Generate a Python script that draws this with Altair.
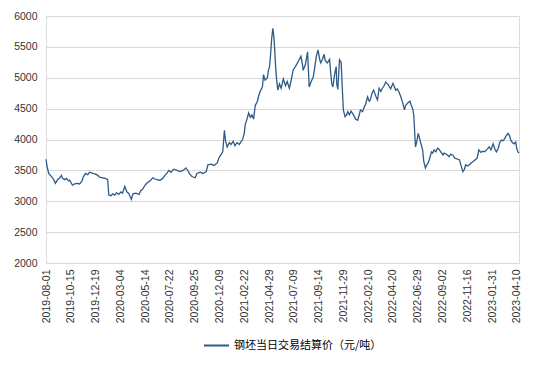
import altair as alt
import pandas as pd

# trading-day index and settlement price (yuan/ton)
day_index = [0, 2, 5, 8, 12, 15, 17, 21, 25, 28, 30, 34, 37, 41, 43, 48, 52, 57, 61, 65, 68, 72, 76, 79, 85, 90, 94, 97, 103, 108,
             112, 114, 118, 121, 125, 128, 132, 136, 139, 143, 147, 150, 155, 158, 163, 169, 172, 176, 179, 183, 189, 194, 198, 201, 207, 212, 216, 220, 223, 227,
             232, 238, 243, 249, 254, 258, 261, 265, 271, 274, 280, 285, 291, 294, 300, 305, 311, 314, 318, 321, 324, 326, 329, 333, 336, 340, 343, 347, 351, 354,
             357, 360, 362, 365, 368, 371, 374, 377, 380, 384, 386, 389, 393, 395, 398, 402, 404, 406, 408, 410, 412, 414, 415, 417, 419, 421, 424, 427, 431, 435,
             438, 442, 445, 449, 453, 456, 460, 463, 466, 467, 471, 475, 478, 482, 485, 487, 491, 494, 497, 499, 502, 505, 507, 511, 515, 517, 519, 521, 524, 527,
             528, 530, 533, 536, 538, 540, 543, 546, 548, 551, 554, 557, 559, 562, 566, 569, 571, 575, 578, 580, 584, 587, 589, 592, 595, 599, 602, 605, 608, 611,
             614, 617, 620, 622, 626, 630, 632, 635, 638, 641, 644, 648, 651, 653, 657, 661, 663, 666, 668, 670, 671, 673, 676, 679, 681, 684, 686, 689, 691, 694,
             697, 700, 702, 705, 708, 711, 713, 717, 721, 723, 726, 730, 732, 735, 739, 742, 745, 748, 751, 753, 757, 760, 762, 766, 770, 772, 775, 779, 783, 786,
             790, 793, 796, 799, 803, 805, 808, 812, 815, 818, 821, 824, 827, 830, 833, 835, 839, 842, 844, 847, 850, 853, 855, 857, 859]
price = [3680, 3560, 3450, 3420, 3380, 3330, 3290, 3350, 3380, 3420, 3370, 3350, 3370, 3330, 3340, 3260, 3280, 3290, 3280, 3320, 3400, 3450, 3430, 3470, 3450, 3440, 3420, 3390, 3380, 3370,
         3350, 3100, 3090, 3120, 3100, 3140, 3110, 3150, 3130, 3240, 3150, 3130, 3030, 3120, 3130, 3110, 3170, 3200, 3250, 3290, 3330, 3380, 3360, 3350, 3340, 3370, 3420, 3460, 3500, 3470,
         3520, 3500, 3480, 3500, 3540, 3490, 3440, 3400, 3380, 3450, 3470, 3450, 3480, 3590, 3600, 3580, 3620, 3700, 3760, 3800, 4150, 3980, 3880, 3950, 3920, 3970, 3900, 3950, 3920, 3960,
         4000, 4100, 4250, 4330, 4430, 4360, 4400, 4330, 4550, 4620, 4700, 4780, 4850, 5050, 4960, 5000, 5120, 5180, 5400, 5650, 5800, 5650, 5500, 5180, 4950, 4800, 4900, 4830, 4980, 4870,
         4940, 4830, 4950, 5130, 5180, 5230, 5300, 5350, 5200, 5120, 5210, 5420, 4850, 4950, 5000, 5100, 5350, 5450, 5300, 5240, 5300, 5380, 5280, 5240, 5300, 5080, 4900, 4850, 5050, 5180,
         4900, 4810, 5290, 5250, 4850, 4480, 4370, 4400, 4450, 4400, 4460, 4420, 4390, 4330, 4310, 4400, 4480, 4450, 4530, 4560, 4690, 4620, 4640, 4750, 4800, 4700, 4640, 4830, 4780, 4830,
         4870, 4930, 4900, 4880, 4820, 4910, 4870, 4800, 4820, 4770, 4700, 4590, 4480, 4550, 4590, 4620, 4560, 4500, 4390, 4040, 3880, 3950, 4100, 4000, 3930, 3830, 3650, 3540, 3580, 3620,
         3700, 3800, 3780, 3830, 3800, 3860, 3850, 3800, 3750, 3780, 3770, 3740, 3720, 3760, 3750, 3700, 3690, 3680, 3670, 3600, 3480, 3520, 3590, 3570, 3600, 3620, 3640, 3670, 3700, 3830,
         3790, 3810, 3800, 3820, 3860, 3880, 3830, 3930, 3850, 3800, 3850, 3950, 3990, 3980, 4010, 4050, 4100, 4060, 3990, 3950, 3930, 3960, 3850, 3800, 3780]

tick_labels = ["2019-08-01", "2019-10-15", "2019-12-19", "2020-03-04", "2020-05-14", "2020-07-22",
               "2020-09-25", "2020-12-09", "2021-02-22", "2021-04-29", "2021-07-09", "2021-09-14",
               "2021-11-29", "2022-02-10", "2022-04-20", "2022-06-29", "2022-09-02", "2022-11-16",
               "2023-01-31", "2023-04-10"]
tick_step = 45
y_ticks = [2000, 2500, 3000, 3500, 4000, 4500, 5000, 5500, 6000]
series_name = "钢坯当日交易结算价（元/吨）"

df = pd.DataFrame({"idx": day_index, "price": price, "series": series_name})

tick_values = [i * tick_step for i in range(len(tick_labels))]
label_expr = "[" + ",".join("'" + t + "'" for t in tick_labels) + "][round(datum.value/%d)]" % tick_step

chart = alt.Chart(df).mark_line(strokeWidth=1.3, interpolate="linear").encode(
    x=alt.X("idx:Q", scale=alt.Scale(domain=[0, 859], nice=False, zero=False),
            axis=alt.Axis(values=tick_values, labelExpr=label_expr, labelAngle=270,
                          labelAlign="right", labelBaseline="middle", labelPadding=6,
                          grid=False, ticks=False, domain=False, title=None,
                          labelFont="Liberation Sans", labelFontSize=10.5,
                          labelColor="#333333", labelOverlap=False)),
    y=alt.Y("price:Q", scale=alt.Scale(domain=[2000, 6000], nice=False, zero=False),
            axis=alt.Axis(values=y_ticks, format="d", grid=True, gridColor="#d9d9d9", gridWidth=1,
                          ticks=False, domain=False, title=None, labelPadding=9,
                          labelFont="Liberation Sans", labelFontSize=10.5,
                          labelColor="#333333")),
    color=alt.Color("series:N", scale=alt.Scale(range=["#2E5A88"]),
                    legend=alt.Legend(orient="none", legendX=157, legendY=316,
                                      direction="horizontal", title=None,
                                      symbolType="stroke", symbolSize=625,
                                      symbolStrokeWidth=2, labelFont="Noto Sans CJK SC",
                                      labelFontSize=11, labelColor="#000000",
                                      labelOffset=4)),
).properties(
    width=473, height=247,
    autosize=alt.AutoSizeParams(type="none"),
    padding={"left": 38, "top": 8, "right": 20, "bottom": 94},
).configure_view(stroke=None).configure(background="white")

chart.save("out.html", embed_options={"renderer": "svg", "actions": False})
